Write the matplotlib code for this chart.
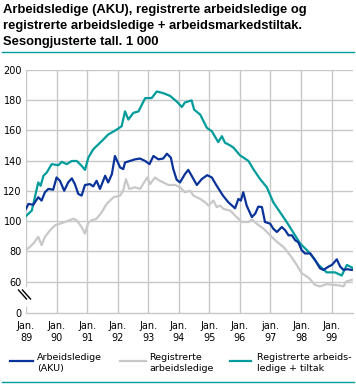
import numpy as np
import matplotlib
matplotlib.use("Agg")
import matplotlib.pyplot as plt
from matplotlib.lines import Line2D

plt.rcParams['font.family'] = ['DejaVu Sans']

# Arbeidsledige (AKU) (decimal years, 1000 persons)
aku_t = [1989.00, 1989.08, 1989.24, 1989.40, 1989.51, 1989.62, 1989.73, 1989.89, 1990.00, 1990.11,
         1990.25, 1990.38, 1990.50, 1990.60, 1990.71, 1990.82, 1990.93, 1991.09, 1991.20, 1991.31,
         1991.42, 1991.59, 1991.69, 1991.81, 1991.91, 1992.08, 1992.18, 1992.24, 1992.40, 1992.57,
         1992.73, 1992.90, 1993.04, 1993.17, 1993.33, 1993.49, 1993.61, 1993.74, 1993.82, 1993.93,
         1994.04, 1994.20, 1994.31, 1994.42, 1994.59, 1994.75, 1994.93, 1995.08, 1995.24, 1995.41,
         1995.46, 1995.62, 1995.84, 1995.95, 1996.03, 1996.11, 1996.22, 1996.39, 1996.50, 1996.60,
         1996.72, 1996.82, 1996.99, 1997.09, 1997.21, 1997.37, 1997.48, 1997.59, 1997.70, 1997.81,
         1997.91, 1998.02, 1998.13, 1998.30, 1998.46, 1998.62, 1998.73, 1998.90, 1999.01, 1999.17,
         1999.28, 1999.39, 1999.50, 1999.66]
aku_v = [108.1, 111.4, 110.8, 115.8, 113.6, 119.1, 121.3, 120.8, 128.9, 126.7,
         120.1, 125.6, 128.3, 124.5, 118.0, 116.9, 123.9, 124.5, 123.0, 126.7,
         121.3, 130.0, 125.6, 131.1, 143.1, 135.5, 134.4, 138.8, 139.8, 140.9,
         141.4, 139.8, 137.7, 143.1, 140.9, 141.4, 144.6, 142.0, 134.4, 127.4,
         125.6, 131.1, 133.9, 130.0, 123.9, 127.8, 130.4, 128.9, 123.4, 118.0,
         116.5, 112.5, 108.5, 114.7, 113.6, 119.1, 110.3, 102.7, 104.9, 109.6,
         109.3, 99.4, 98.3, 95.0, 92.8, 96.1, 94.0, 90.6, 90.6, 87.3,
         86.0, 80.8, 78.6, 78.6, 74.2, 68.8, 67.7, 69.9, 71.0, 74.7,
         69.9, 67.7, 68.2, 67.7]

# Registrerte arbeidsledige
reg_t = [1989.00, 1989.13, 1989.24, 1989.40, 1989.51, 1989.62, 1989.79, 1989.95, 1990.11, 1990.33,
         1990.55, 1990.66, 1990.82, 1990.93, 1991.04, 1991.15, 1991.31, 1991.48, 1991.64, 1991.86,
         1992.08, 1992.18, 1992.27, 1992.38, 1992.57, 1992.73, 1992.90, 1992.97, 1993.06, 1993.22,
         1993.33, 1993.49, 1993.66, 1993.88, 1994.04, 1994.20, 1994.37, 1994.48, 1994.70, 1994.86,
         1994.97, 1995.13, 1995.24, 1995.35, 1995.46, 1995.68, 1995.84, 1996.06, 1996.28, 1996.39,
         1996.55, 1996.77, 1996.99, 1997.21, 1997.42, 1997.64, 1997.86, 1998.02, 1998.24, 1998.46,
         1998.62, 1998.84, 1999.06, 1999.28, 1999.39, 1999.47, 1999.66]
reg_v = [80.8, 83.0, 85.2, 89.6, 84.1, 89.6, 94.0, 97.2, 98.3, 99.8,
         101.6, 100.5, 96.1, 91.7, 99.0, 100.5, 101.6, 106.0, 111.4, 115.8,
         116.9, 120.1, 127.8, 121.3, 122.4, 121.3, 126.7, 128.9, 124.5, 128.9,
         127.2, 125.6, 123.9, 123.9, 122.4, 119.1, 120.1, 116.9, 114.7, 112.5,
         110.3, 113.6, 109.3, 110.3, 108.1, 107.0, 103.7, 99.4, 99.4, 101.1,
         98.3, 95.0, 90.6, 86.3, 83.0, 77.5, 71.0, 65.5, 62.7, 57.8,
         56.8, 58.3, 57.8, 57.4, 56.8, 60.0, 61.1]

# Registrerte arbeidsledige + tiltak
tot_t = [1989.00, 1989.19, 1989.29, 1989.40, 1989.48, 1989.57, 1989.68, 1989.84, 1990.06, 1990.17,
         1990.33, 1990.50, 1990.66, 1990.82, 1990.93, 1991.04, 1991.20, 1991.48, 1991.69, 1991.97,
         1992.13, 1992.24, 1992.35, 1992.51, 1992.68, 1992.90, 1993.11, 1993.28, 1993.49, 1993.71,
         1993.93, 1994.10, 1994.20, 1994.42, 1994.50, 1994.70, 1994.92, 1995.08, 1995.29, 1995.41,
         1995.51, 1995.68, 1995.79, 1996.00, 1996.28, 1996.44, 1996.66, 1996.88, 1997.09, 1997.42,
         1997.53, 1997.97, 1998.30, 1998.57, 1998.84, 1999.11, 1999.33, 1999.50, 1999.71]
tot_v = [103.3, 107.0, 115.8, 125.6, 123.4, 130.0, 132.2, 137.7, 137.0, 139.2,
         137.7, 139.8, 139.8, 136.6, 133.9, 142.0, 147.5, 153.0, 157.3, 160.6,
         162.8, 172.6, 167.2, 171.6, 172.6, 181.4, 181.4, 185.8, 184.7, 182.9,
         179.2, 175.5, 178.5, 179.9, 173.8, 170.5, 161.7, 159.5, 152.3, 156.2,
         151.9, 150.1, 148.6, 143.6, 139.8, 134.4, 127.8, 122.4, 112.5, 102.7,
         99.4, 85.2, 78.6, 71.0, 66.1, 66.1, 64.0, 71.0, 68.8]

years = list(range(1989, 2000))
year_labels = ["Jan.\n89", "Jan.\n90", "Jan.\n91", "Jan.\n92", "Jan.\n93", "Jan.\n94",
               "Jan.\n95", "Jan.\n96", "jan.\n97", "Jan.\n98", "Jan.\n99"]
y_ticks = [60, 80, 100, 120, 140, 160, 180, 200]
series_names = ["Arbeidsledige\n(AKU)", "Registrerte\narbeidsledige", "Registrerte arbeids-\nledige + tiltak"]
title_lines = ["Arbeidsledige (AKU), registrerte arbeidsledige og",
               "registrerte arbeidsledige + arbeidsmarkedstiltak.",
               "Sesongjusterte tall. 1 000"]

BLUE = "#0a3399"
GREY = "#c8c8c8"
TEAL = "#009c9c"
GRID = "#c8c8c8"

W, H = 356, 384
fig = plt.figure(figsize=(W / 100, H / 100), dpi=100)

def fx(px):
    return px / W

def fy(py):
    return 1 - py / H

ax = fig.add_axes([fx(26), fy(313), fx(353) - fx(26), fy(70) - fy(313)])
y0 = 39.2  # where the "0" sits under the axis break
ax.set_xlim(1989, 1999.70)
ax.set_ylim(y0, 200)

for yv in y_ticks:
    ax.axhline(yv, color=GRID, lw=1.0, zorder=1)
for yr in years[1:]:
    ax.axvline(yr, color=GRID, lw=1.0, zorder=1)

# left axis with a gap for the break
frac = lambda v: (v - y0) / (200 - y0)
ax.axvline(1989, ymin=frac(57.0), ymax=1, color=GRID, lw=1.0, zorder=1)
ax.axvline(1989, ymin=0, ymax=frac(43.5), color=GRID, lw=1.0, zorder=1)

ax.plot(reg_t, reg_v, color=GREY, lw=1.6, zorder=3)
ax.plot(tot_t, tot_v, color=TEAL, lw=1.6, zorder=4)
ax.plot(aku_t, aku_v, color=BLUE, lw=1.6, zorder=5)

for s in ["top", "right", "left"]:
    ax.spines[s].set_visible(False)
ax.spines["bottom"].set_color(GRID)
ax.spines["bottom"].set_linewidth(1.0)

ax.set_xticks(years)
ax.set_xticklabels(year_labels, fontsize=7, linespacing=1.2)
ax.set_yticks([y0] + y_ticks)
ax.set_yticklabels(["0"] + [str(v) for v in y_ticks], fontsize=7)
ax.tick_params(length=0, pad=3)
ax.tick_params(axis="x", pad=6)

# break marks
for dx in (0, 4.0):
    fig.add_artist(Line2D([fx(18.5 + dx), fx(26.5 + dx)], [fy(290), fy(299)],
                          color="black", lw=1.0))

# title
for i, line in enumerate(title_lines):
    fig.text(fx(3), fy(13 + 16 * i), line, ha="left", va="baseline", fontsize=9.4,
             fontweight="bold", family="Liberation Sans")
fig.add_artist(Line2D([fx(2), fx(354)], [fy(52), fy(52)], color=TEAL, lw=1.0))
fig.add_artist(Line2D([fx(2), fx(354)], [fy(382), fy(382)], color=TEAL, lw=1.0))

# legend
leg_x = [(10, 33, 37), (120, 146, 149), (230, 251, 257)]
for (x1, x2, xt), name, col in zip(leg_x, series_names, [BLUE, GREY, TEAL]):
    fig.add_artist(Line2D([fx(x1), fx(x2)], [fy(361), fy(361)], color=col, lw=1.6))
    fig.text(fx(xt), fy(353), name, ha="left", va="top", fontsize=6.8, linespacing=1.25)

fig.savefig("out.png", dpi=100)
